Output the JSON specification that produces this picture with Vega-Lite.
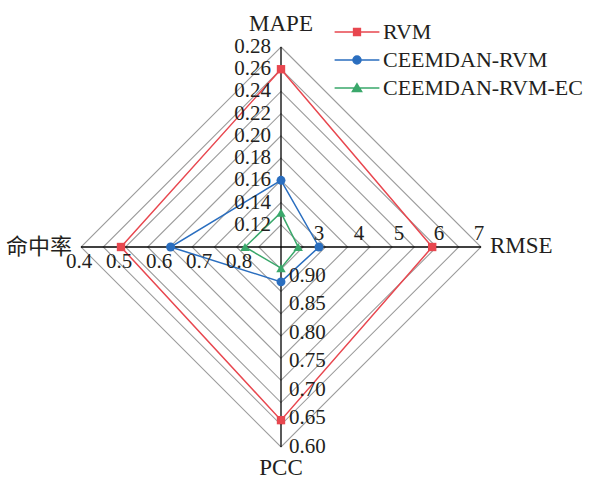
{
  "$schema": "https://vega.github.io/schema/vega-lite/v6.json",
  "width": 602,
  "height": 479,
  "autosize": "none",
  "padding": 0,
  "background": "white",
  "config": {"view": {"stroke": null}},
  "datasets": {
    "scores": [
      {"model": "RVM", "metric": "MAPE", "value": 0.26},
      {"model": "RVM", "metric": "RMSE", "value": 5.78},
      {"model": "RVM", "metric": "PCC", "value": 0.647},
      {"model": "RVM", "metric": "命中率", "value": 0.50},
      {"model": "CEEMDAN-RVM", "metric": "MAPE", "value": 0.160},
      {"model": "CEEMDAN-RVM", "metric": "RMSE", "value": 2.95},
      {"model": "CEEMDAN-RVM", "metric": "PCC", "value": 0.889},
      {"model": "CEEMDAN-RVM", "metric": "命中率", "value": 0.624},
      {"model": "CEEMDAN-RVM-EC", "metric": "MAPE", "value": 0.131},
      {"model": "CEEMDAN-RVM-EC", "metric": "RMSE", "value": 2.43},
      {"model": "CEEMDAN-RVM-EC", "metric": "PCC", "value": 0.913},
      {"model": "CEEMDAN-RVM-EC", "metric": "命中率", "value": 0.81}
    ],
    "axes": [
      {"metric": "MAPE", "k": 0, "lo": 0.10, "hi": 0.28},
      {"metric": "RMSE", "k": 1, "lo": 2, "hi": 7},
      {"metric": "PCC", "k": 2, "lo": 0.95, "hi": 0.60},
      {"metric": "命中率", "k": 3, "lo": 0.9, "hi": 0.4}
    ],
    "ticks": [
      {"metric": "MAPE", "value": 0.12}, {"metric": "MAPE", "value": 0.14}, {"metric": "MAPE", "value": 0.16},
      {"metric": "MAPE", "value": 0.18}, {"metric": "MAPE", "value": 0.20}, {"metric": "MAPE", "value": 0.22},
      {"metric": "MAPE", "value": 0.24}, {"metric": "MAPE", "value": 0.26}, {"metric": "MAPE", "value": 0.28},
      {"metric": "RMSE", "value": 3}, {"metric": "RMSE", "value": 4}, {"metric": "RMSE", "value": 5},
      {"metric": "RMSE", "value": 6}, {"metric": "RMSE", "value": 7},
      {"metric": "PCC", "value": 0.60}, {"metric": "PCC", "value": 0.65}, {"metric": "PCC", "value": 0.70},
      {"metric": "PCC", "value": 0.75}, {"metric": "PCC", "value": 0.80}, {"metric": "PCC", "value": 0.85},
      {"metric": "PCC", "value": 0.90},
      {"metric": "命中率", "value": 0.4}, {"metric": "命中率", "value": 0.5}, {"metric": "命中率", "value": 0.6},
      {"metric": "命中率", "value": 0.7}, {"metric": "命中率", "value": 0.8}
    ],
    "rings": [
      {"ring": 1, "k": [0, 1, 2, 3]}, {"ring": 2, "k": [0, 1, 2, 3]}, {"ring": 3, "k": [0, 1, 2, 3]},
      {"ring": 4, "k": [0, 1, 2, 3]}, {"ring": 5, "k": [0, 1, 2, 3]}, {"ring": 6, "k": [0, 1, 2, 3]},
      {"ring": 7, "k": [0, 1, 2, 3]}, {"ring": 8, "k": [0, 1, 2, 3]}, {"ring": 9, "k": [0, 1, 2, 3]}
    ]
  },
  "encoding": {
    "x": {"field": "x", "type": "quantitative", "scale": {"domain": [-1.405, 1.605], "nice": false, "zero": false}, "axis": null},
    "y": {"field": "y", "type": "quantitative", "scale": {"domain": [-1.16, 1.235], "nice": false, "zero": false}, "axis": null}
  },
  "layer": [
    {
      "data": {"name": "rings"},
      "transform": [
        {"flatten": ["k"]},
        {"calculate": "datum.ring / 9 * cos(PI / 2 - datum.k * PI / 2)", "as": "x"},
        {"calculate": "datum.ring / 9 * sin(PI / 2 - datum.k * PI / 2)", "as": "y"}
      ],
      "mark": {"type": "line", "interpolate": "linear-closed", "stroke": "#9c9c9c", "strokeWidth": 1.1},
      "encoding": {"detail": {"field": "ring", "type": "nominal"}, "order": {"field": "k", "type": "quantitative"}}
    },
    {
      "data": {"name": "axes"},
      "transform": [
        {"calculate": "0", "as": "x"},
        {"calculate": "0", "as": "y"},
        {"calculate": "cos(PI / 2 - datum.k * PI / 2)", "as": "xe"},
        {"calculate": "sin(PI / 2 - datum.k * PI / 2)", "as": "ye"}
      ],
      "mark": {"type": "rule", "stroke": "#000000", "strokeWidth": 1.3},
      "encoding": {"x2": {"field": "xe"}, "y2": {"field": "ye"}}
    },
    {
      "data": {"name": "scores"},
      "transform": [
        {"lookup": "metric", "from": {"data": {"name": "axes"}, "key": "metric", "fields": ["k", "lo", "hi"]}},
        {"calculate": "(datum.value - datum.lo) / (datum.hi - datum.lo)", "as": "r"},
        {"calculate": "datum.r * cos(PI / 2 - datum.k * PI / 2)", "as": "x"},
        {"calculate": "datum.r * sin(PI / 2 - datum.k * PI / 2)", "as": "y"}
      ],
      "mark": {"type": "line", "interpolate": "linear-closed", "strokeWidth": 1.5},
      "encoding": {
        "color": {
          "field": "model", "type": "nominal",
          "scale": {"domain": ["RVM", "CEEMDAN-RVM", "CEEMDAN-RVM-EC"], "range": ["#e8474f", "#2a6ebf", "#3aa86b"]},
          "legend": {
            "orient": "none", "legendX": 346, "legendY": 21, "title": null, "padding": 0,
            "symbolSize": 64, "labelOffset": 15, "labelFont": "Liberation Serif", "labelFontSize": 22,
            "labelColor": "#231f20", "rowPadding": 6, "symbolStrokeWidth": 1.5, "labelLimit": 400,
            "encode": {
              "symbols": {
                "update": {
                  "shape": {"signal": "datum.value === 'RVM' ? 'M-5.6,0H5.6M-0.85,-0.85H0.85V0.85H-0.85Z' : (datum.value === 'CEEMDAN-RVM' ? 'M-5.6,0H5.6M-1,0A1,1,0,1,0,1,0A1,1,0,1,0,-1,0Z' : 'M-5.6,0H5.6M0,-1.05L1.15,0.9L-1.15,0.9Z')"},
                  "stroke": {"signal": "scale('color', datum.value)"},
                  "fill": {"signal": "scale('color', datum.value)"},
                  "opacity": {"value": 1},
                  "strokeWidth": {"value": 1.5}
                }
              }
            }
          }
        },
        "order": {"field": "k", "type": "quantitative"}
      }
    },
    {
      "data": {"name": "scores"},
      "transform": [
        {"filter": "datum.model === 'RVM'"},
        {"lookup": "metric", "from": {"data": {"name": "axes"}, "key": "metric", "fields": ["k", "lo", "hi"]}},
        {"calculate": "(datum.value - datum.lo) / (datum.hi - datum.lo)", "as": "r"},
        {"calculate": "datum.r * cos(PI / 2 - datum.k * PI / 2)", "as": "x"},
        {"calculate": "datum.r * sin(PI / 2 - datum.k * PI / 2)", "as": "y"}
      ],
      "mark": {"type": "point", "filled": true, "size": 70, "opacity": 1, "shape": "square"},
      "encoding": {
        "color": {"field": "model", "type": "nominal", "scale": {"domain": ["RVM", "CEEMDAN-RVM", "CEEMDAN-RVM-EC"], "range": ["#e8474f", "#2a6ebf", "#3aa86b"]}}
      }
    },
    {
      "data": {"name": "scores"},
      "transform": [
        {"filter": "datum.model === 'CEEMDAN-RVM'"},
        {"lookup": "metric", "from": {"data": {"name": "axes"}, "key": "metric", "fields": ["k", "lo", "hi"]}},
        {"calculate": "(datum.value - datum.lo) / (datum.hi - datum.lo)", "as": "r"},
        {"calculate": "datum.r * cos(PI / 2 - datum.k * PI / 2)", "as": "x"},
        {"calculate": "datum.r * sin(PI / 2 - datum.k * PI / 2)", "as": "y"}
      ],
      "mark": {"type": "point", "filled": true, "size": 80, "opacity": 1, "shape": "circle"},
      "encoding": {
        "color": {"field": "model", "type": "nominal", "scale": {"domain": ["RVM", "CEEMDAN-RVM", "CEEMDAN-RVM-EC"], "range": ["#e8474f", "#2a6ebf", "#3aa86b"]}}
      }
    },
    {
      "data": {"name": "scores"},
      "transform": [
        {"filter": "datum.model === 'CEEMDAN-RVM-EC'"},
        {"lookup": "metric", "from": {"data": {"name": "axes"}, "key": "metric", "fields": ["k", "lo", "hi"]}},
        {"calculate": "(datum.value - datum.lo) / (datum.hi - datum.lo)", "as": "r"},
        {"calculate": "datum.r * cos(PI / 2 - datum.k * PI / 2)", "as": "x"},
        {"calculate": "datum.r * sin(PI / 2 - datum.k * PI / 2)", "as": "y"}
      ],
      "mark": {"type": "point", "filled": true, "size": 90, "opacity": 1, "shape": "triangle-up"},
      "encoding": {
        "color": {"field": "model", "type": "nominal", "scale": {"domain": ["RVM", "CEEMDAN-RVM", "CEEMDAN-RVM-EC"], "range": ["#e8474f", "#2a6ebf", "#3aa86b"]}}
      }
    },
    {
      "data": {"name": "ticks"},
      "transform": [
        {"filter": "datum.metric === 'MAPE'"},
        {"lookup": "metric", "from": {"data": {"name": "axes"}, "key": "metric", "fields": ["k", "lo", "hi"]}},
        {"calculate": "(datum.value - datum.lo) / (datum.hi - datum.lo)", "as": "r"},
        {"calculate": "0", "as": "x"},
        {"calculate": "datum.r", "as": "y"}
      ],
      "mark": {"type": "text", "align": "right", "baseline": "middle", "dx": -10, "font": "Liberation Serif", "fontSize": 21, "color": "#231f20"},
      "encoding": {"text": {"field": "value", "type": "quantitative", "format": ".2f"}}
    },
    {
      "data": {"name": "ticks"},
      "transform": [
        {"filter": "datum.metric === 'RMSE'"},
        {"lookup": "metric", "from": {"data": {"name": "axes"}, "key": "metric", "fields": ["k", "lo", "hi"]}},
        {"calculate": "(datum.value - datum.lo) / (datum.hi - datum.lo)", "as": "x"},
        {"calculate": "0", "as": "y"}
      ],
      "mark": {"type": "text", "align": "center", "baseline": "alphabetic", "dy": -7, "dx": -2, "font": "Liberation Serif", "fontSize": 21, "color": "#231f20"},
      "encoding": {"text": {"field": "value", "type": "quantitative", "format": "d"}}
    },
    {
      "data": {"name": "ticks"},
      "transform": [
        {"filter": "datum.metric === 'PCC'"},
        {"lookup": "metric", "from": {"data": {"name": "axes"}, "key": "metric", "fields": ["k", "lo", "hi"]}},
        {"calculate": "0", "as": "x"},
        {"calculate": "-(datum.value - datum.lo) / (datum.hi - datum.lo)", "as": "y"}
      ],
      "mark": {"type": "text", "align": "left", "baseline": "middle", "dx": 8, "font": "Liberation Serif", "fontSize": 21, "color": "#231f20"},
      "encoding": {"text": {"field": "value", "type": "quantitative", "format": ".2f"}}
    },
    {
      "data": {"name": "ticks"},
      "transform": [
        {"filter": "datum.metric === '命中率'"},
        {"lookup": "metric", "from": {"data": {"name": "axes"}, "key": "metric", "fields": ["k", "lo", "hi"]}},
        {"calculate": "-(datum.value - datum.lo) / (datum.hi - datum.lo)", "as": "x"},
        {"calculate": "0", "as": "y"}
      ],
      "mark": {"type": "text", "align": "center", "baseline": "alphabetic", "dy": 21, "dx": -2, "font": "Liberation Serif", "fontSize": 21, "color": "#231f20"},
      "encoding": {"text": {"field": "value", "type": "quantitative", "format": ".1f"}}
    },
    {
      "data": {"name": "axes"},
      "transform": [
        {"filter": "datum.metric === 'MAPE'"},
        {"calculate": "0", "as": "x"},
        {"calculate": "1", "as": "y"}
      ],
      "mark": {"type": "text", "align": "center", "baseline": "alphabetic", "dy": -16, "font": "Liberation Serif", "fontSize": 23, "color": "#231f20"},
      "encoding": {"text": {"field": "metric"}}
    },
    {
      "data": {"name": "axes"},
      "transform": [
        {"filter": "datum.metric === 'RMSE'"},
        {"calculate": "1", "as": "x"},
        {"calculate": "0", "as": "y"}
      ],
      "mark": {"type": "text", "align": "left", "baseline": "middle", "dx": 9, "dy": -1, "font": "Liberation Serif", "fontSize": 23, "color": "#231f20"},
      "encoding": {"text": {"field": "metric"}}
    },
    {
      "data": {"name": "axes"},
      "transform": [
        {"filter": "datum.metric === 'PCC'"},
        {"calculate": "0", "as": "x"},
        {"calculate": "-1", "as": "y"}
      ],
      "mark": {"type": "text", "align": "center", "baseline": "alphabetic", "dy": 28, "font": "Liberation Serif", "fontSize": 23, "color": "#231f20"},
      "encoding": {"text": {"field": "metric"}}
    },
    {
      "data": {"name": "axes"},
      "transform": [
        {"filter": "datum.metric === '命中率'"},
        {"calculate": "-1", "as": "x"},
        {"calculate": "0", "as": "y"}
      ],
      "mark": {"type": "text", "align": "right", "baseline": "middle", "dx": -9, "font": "Liberation Serif, Noto Sans CJK SC", "fontSize": 22, "color": "#231f20"},
      "encoding": {"text": {"field": "metric"}}
    }
  ]
}
